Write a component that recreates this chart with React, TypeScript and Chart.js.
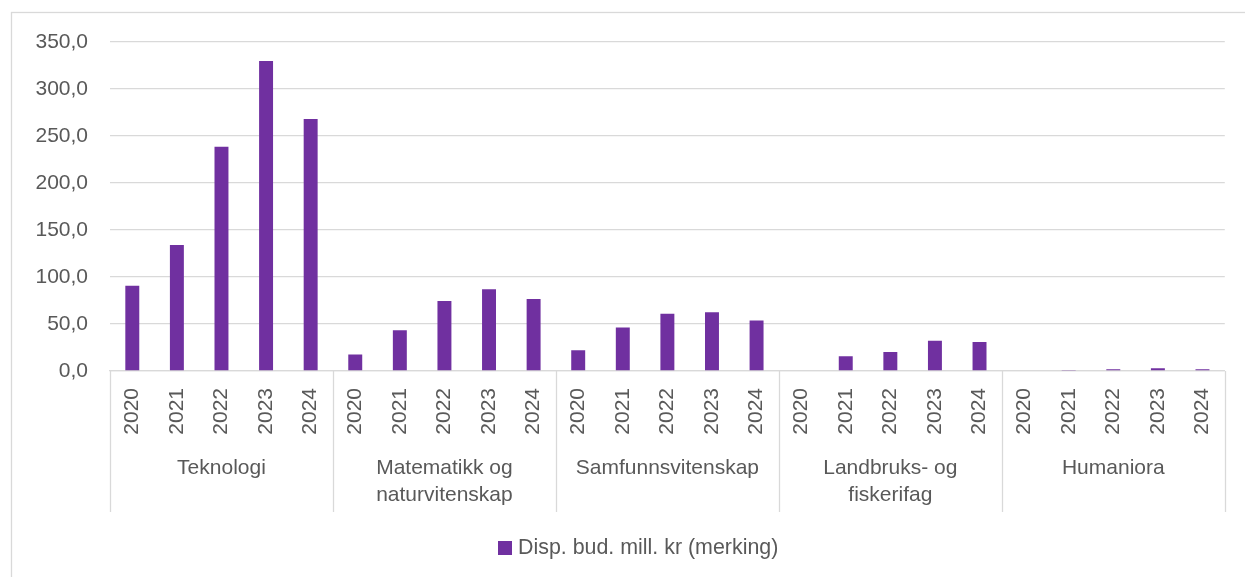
import React, { useEffect, useRef } from "react";
import { Chart, registerables } from "chart.js";

Chart.register(...registerables);

const years = ["2020", "2021", "2022", "2023", "2024"];
const groupLabels: string[][] = [
  ["Teknologi"],
  ["Matematikk og", "naturvitenskap"],
  ["Samfunnsvitenskap"],
  ["Landbruks- og", "fiskerifag"],
  ["Humaniora"],
];
const teknologi = [90.7, 134.0, 238.6, 329.8, 268.0];
const matematikk = [17.5, 43.3, 74.5, 86.9, 76.6];
const samfunnsvitenskap = [22.0, 46.2, 61.0, 62.4, 53.6];
const landbruk = [0, 15.6, 20.2, 32.3, 30.9];
const humaniora = [0, 1.1, 1.8, 2.9, 1.9];
const seriesLabel = "Disp. bud. mill. kr (merking)";
const yTicks = { min: 0, max: 350, step: 50 };

const FONT = "'Liberation Sans', Arial, sans-serif";
const TEXT = "#595959";
const GRID = "#d9d9d9";
const BAR = "#7030A0";

export default function App() {
  const ref = useRef<HTMLCanvasElement | null>(null);

  useEffect(() => {
    if (!ref.current) return;
    const groupsData = [teknologi, matematikk, samfunnsvitenskap, landbruk, humaniora];
    const labels: string[] = [];
    const values: number[] = [];
    groupsData.forEach((g) => {
      years.forEach((y, i) => {
        labels.push(y);
        values.push(g[i]);
      });
    });

    const decor = {
      id: "decor",
      beforeDraw(chart: any) {
        const ctx = chart.ctx;
        ctx.save();
        ctx.strokeStyle = GRID;
        ctx.lineWidth = 1.3;
        ctx.strokeRect(11.5, 12.5, 1300, 700);
        ctx.restore();
      },
      afterDraw(chart: any) {
        const ctx = chart.ctx;
        const xs = chart.scales.x;
        const area = chart.chartArea;
        const n = years.length;
        ctx.save();
        ctx.strokeStyle = GRID;
        ctx.lineWidth = 1.3;
        const bottom = 512;
        const bounds: number[] = [];
        for (let g = 0; g <= groupLabels.length; g++) {
          let x: number;
          if (g === 0) x = area.left;
          else if (g === groupLabels.length) x = area.right;
          else x = (xs.getPixelForValue(g * n - 1) + xs.getPixelForValue(g * n)) / 2;
          bounds.push(x);
          ctx.beginPath();
          ctx.moveTo(Math.round(x) + 0.5, area.bottom);
          ctx.lineTo(Math.round(x) + 0.5, bottom);
          ctx.stroke();
        }
        ctx.fillStyle = TEXT;
        ctx.font = `21px ${FONT}`;
        ctx.textAlign = "center";
        ctx.textBaseline = "middle";
        groupLabels.forEach((lines, g) => {
          const cx = (bounds[g] + bounds[g + 1]) / 2;
          lines.forEach((line, li) => {
            ctx.fillText(line, cx, 468 + li * 27);
          });
        });
        // legend
        ctx.fillStyle = BAR;
        ctx.fillRect(498, 541, 14, 14);
        ctx.fillStyle = TEXT;
        ctx.textAlign = "left";
        ctx.font = `21.4px ${FONT}`;
        ctx.fillText(chart.data.datasets[0].label, 518, 548);
        ctx.restore();
      },
    };

    const chart = new Chart(ref.current, {
      type: "bar",
      data: {
        labels,
        datasets: [
          {
            label: seriesLabel,
            data: values,
            backgroundColor: BAR,
            barPercentage: 0.313,
            categoryPercentage: 1,
          },
        ],
      },
      options: {
        responsive: false,
        animation: false,
        layout: { padding: { top: 42, right: 16, bottom: 65, left: 0 } },
        plugins: { legend: { display: false }, tooltip: { enabled: false } },
        scales: {
          x: {
            grid: { display: false, drawTicks: false },
            border: { display: true, color: GRID, width: 1.3 },
            ticks: {
              autoSkip: false,
              minRotation: 90,
              maxRotation: 90,
              padding: 17,
              color: TEXT,
              font: { family: FONT, size: 21 },
            },
            afterFit(scale: any) {
              scale.height = 141;
            },
          },
          y: {
            min: yTicks.min,
            max: yTicks.max,
            grid: { color: GRID, lineWidth: 1.3, drawTicks: false },
            border: { display: false },
            ticks: {
              stepSize: yTicks.step,
              padding: 22,
              color: TEXT,
              font: { family: FONT, size: 21 },
              callback: (v: any) => Number(v).toFixed(1).replace(".", ","),
            },
            afterFit(scale: any) {
              scale.width = 110;
            },
          },
        },
      },
      plugins: [decor],
    });
    return () => chart.destroy();
  }, []);

  return (
    <div style={{ position: "fixed", left: 0, top: 0, width: 1245, height: 577, background: "#fff" }}>
      <canvas ref={ref} width={1245} height={577} style={{ width: 1245, height: 577, display: "block" }} />
    </div>
  );
}
